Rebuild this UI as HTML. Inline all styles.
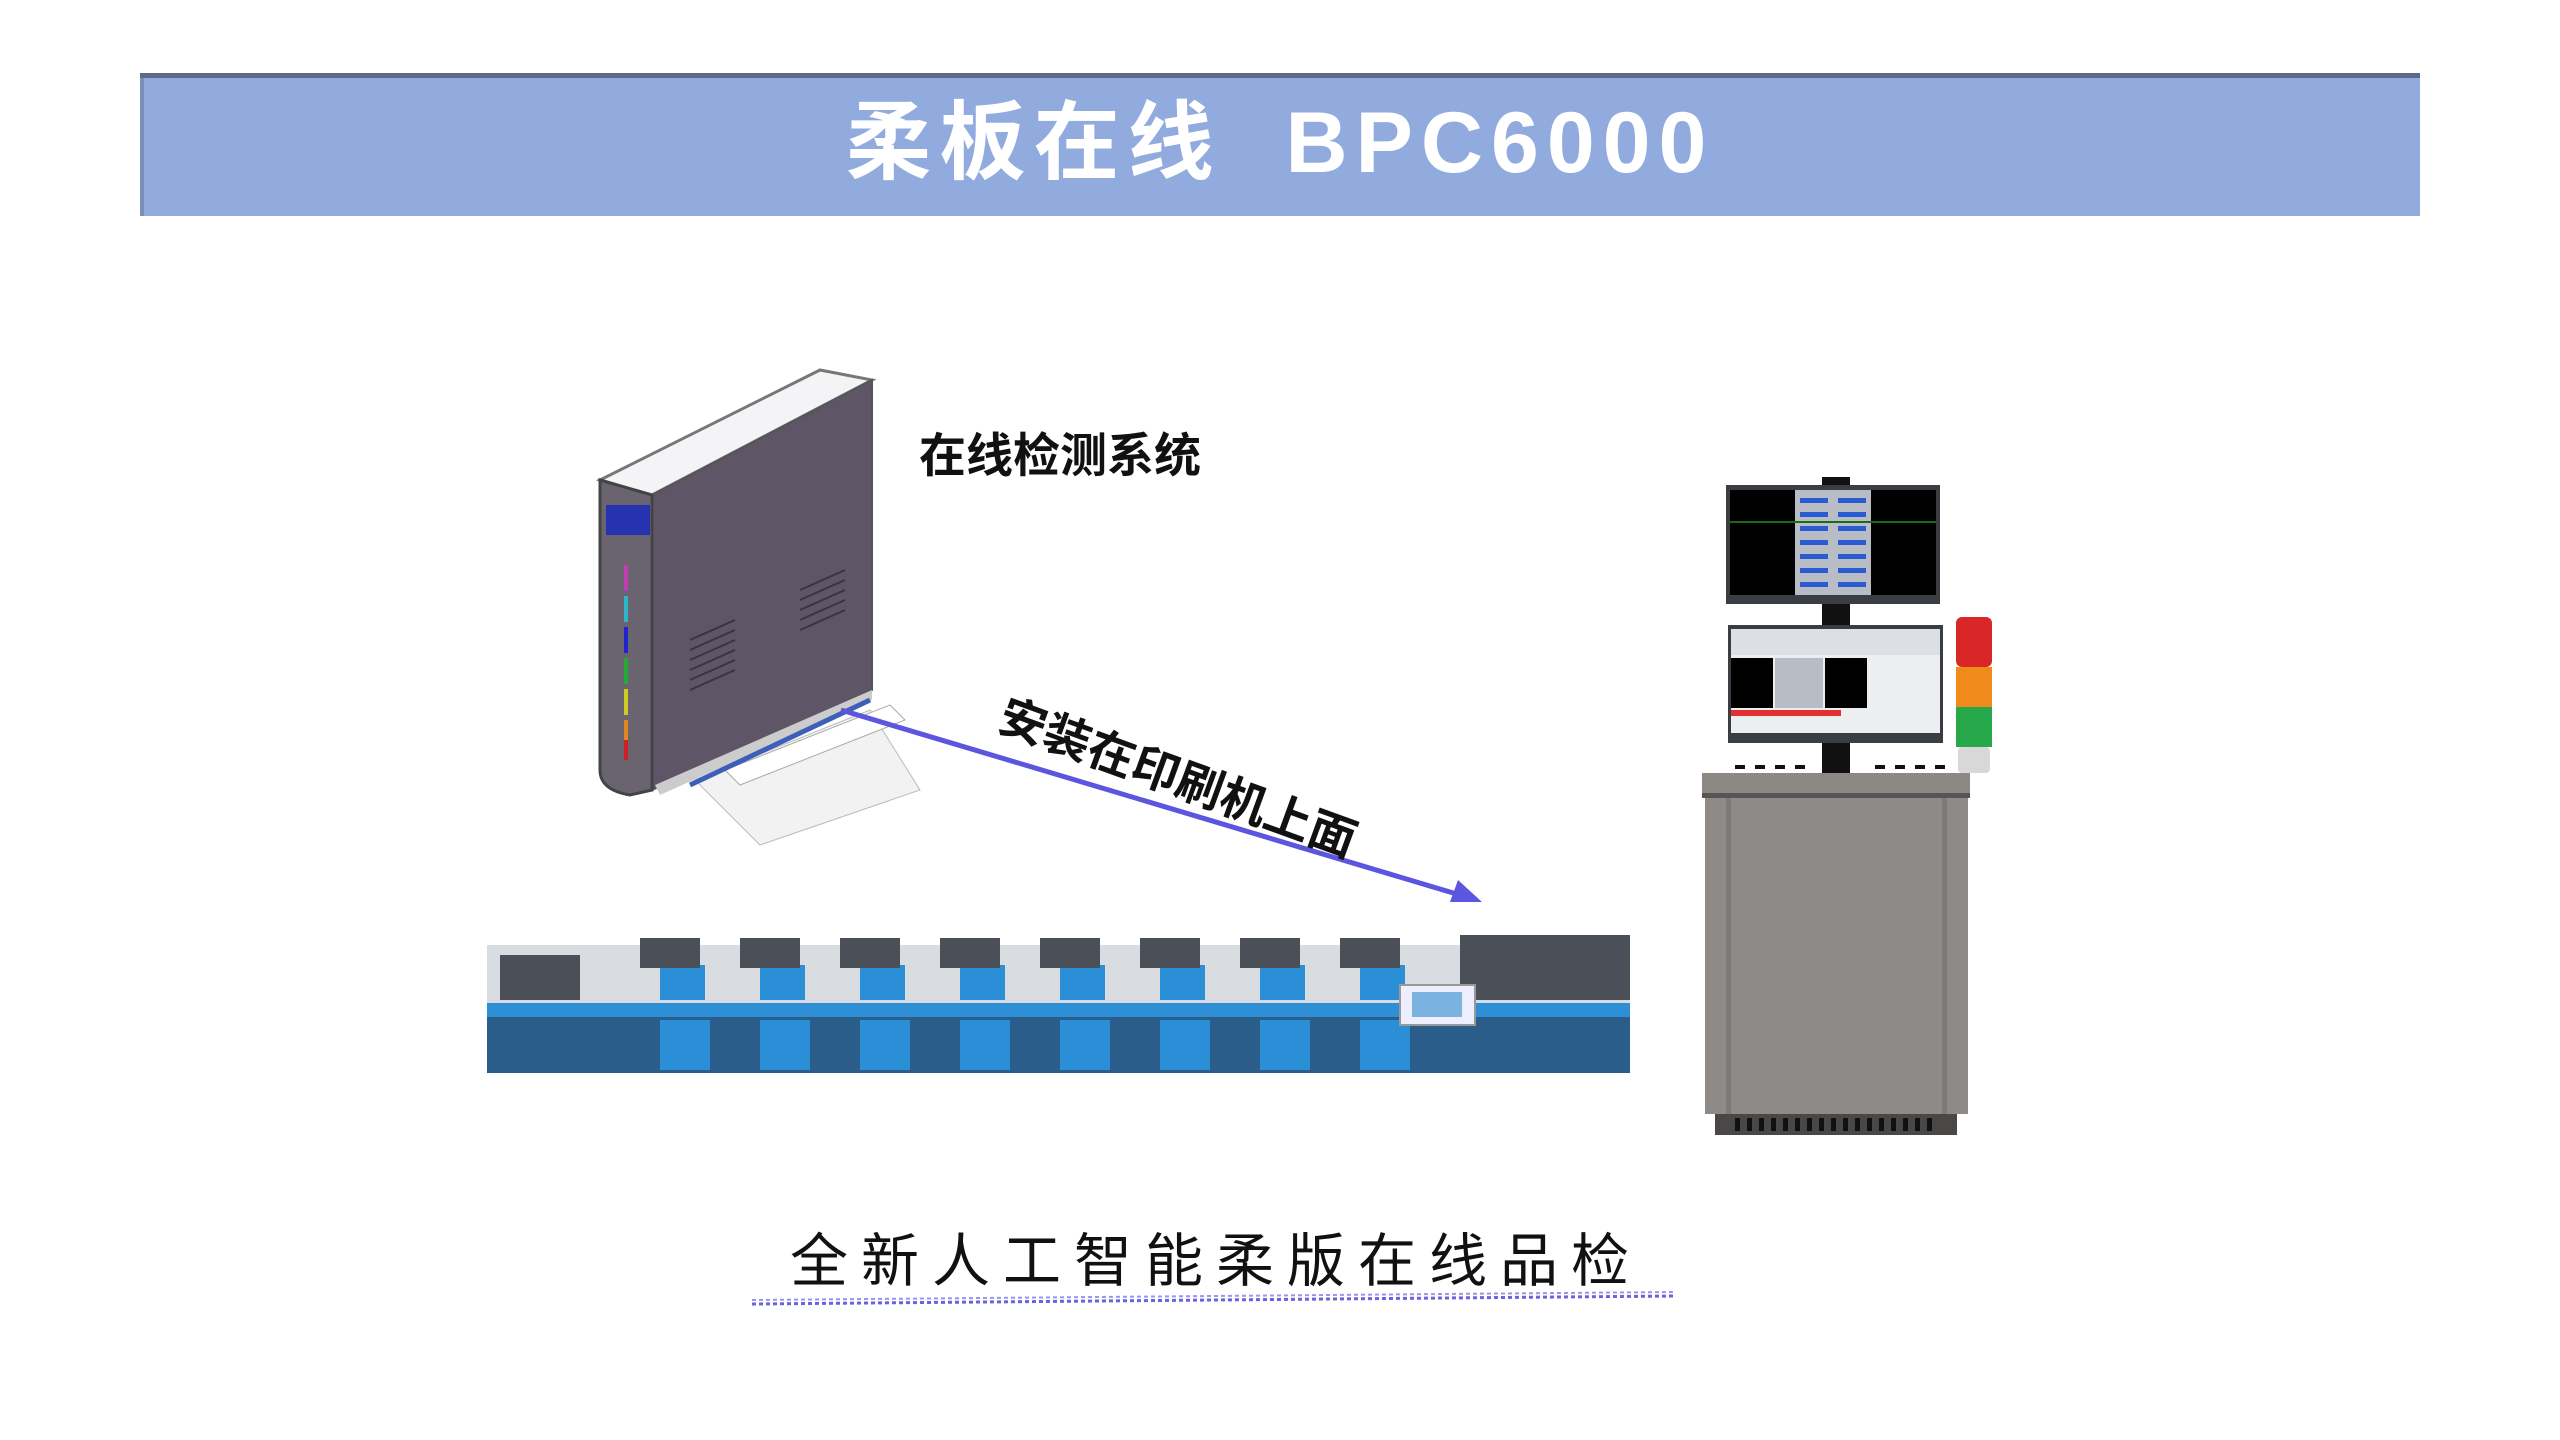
<!DOCTYPE html>
<html><head><meta charset="utf-8"><style>
html,body{margin:0;padding:0;background:#fff;}
body{width:2560px;height:1440px;overflow:hidden;position:relative;font-family:"Liberation Sans","Noto Sans CJK SC",sans-serif;}
.bar{position:absolute;left:140px;top:73px;width:2280px;height:143px;background:#91abdf;border-top:5px solid #5a6a88;box-sizing:border-box;box-shadow:inset 4px 0 0 #7a8fb8;}
.title{position:absolute;left:0;width:2560px;top:88px;text-align:center;color:#fff;font-weight:bold;font-size:86px;line-height:110px;letter-spacing:8px;white-space:pre;}
.lbl{position:absolute;left:919px;top:422px;font-size:47px;font-weight:bold;color:#111;font-family:"Noto Sans CJK SC",sans-serif;line-height:60px;}
.rot{position:absolute;left:1012px;top:684px;font-size:47px;font-weight:bold;color:#111;font-family:"Noto Sans CJK SC",sans-serif;transform:rotate(20deg);transform-origin:0 0;white-space:nowrap;line-height:56px;}
.bottom{position:absolute;left:790px;top:1218px;font-size:58px;color:#111;letter-spacing:13px;font-family:"Noto Sans CJK SC",sans-serif;line-height:76px;white-space:nowrap;}
svg{position:absolute;left:0;top:0;}
</style></head><body>
<div class="bar"></div>
<div class="title">柔板在线  BPC6000</div>
<svg width="2560" height="1440" viewBox="0 0 2560 1440">
<polygon points="600,480 820,370 872,380 652,495" fill="#f4f4f6" stroke="#777" stroke-width="3"/>
<polygon points="652,495 872,380 872,690 652,790" fill="#5e5567" stroke="#555" stroke-width="2"/>
<path d="M600,480 L652,495 L652,790 L630,795 Q600,790 600,770 Z" fill="#6a6470" stroke="#444" stroke-width="3"/>
<rect x="606" y="505" width="44" height="30" fill="#2633b0"/>
<rect x="624" y="565" width="4" height="26" fill="#c23bb0"/>
<rect x="624" y="596" width="4" height="26" fill="#2db6c7"/>
<rect x="624" y="627" width="4" height="26" fill="#2222cc"/>
<rect x="624" y="658" width="4" height="26" fill="#22aa33"/>
<rect x="624" y="689" width="4" height="26" fill="#cccc22"/>
<rect x="624" y="720" width="4" height="26" fill="#dd8822"/>
<rect x="624" y="740" width="4" height="20" fill="#cc2222"/>
<g fill="none" stroke="#3a3442" stroke-width="2">
<path d="M690,640 L735,620 M690,650 L735,630 M690,660 L735,640 M690,670 L735,650 M690,680 L735,660 M690,690 L735,670"/>
<path d="M800,590 L845,570 M800,600 L845,580 M800,610 L845,590 M800,620 L845,600 M800,630 L845,610"/>
</g>
<polygon points="655,785 872,690 872,700 660,795" fill="#ccc"/>
<polygon points="695,780 870,710 920,790 760,845" fill="#f2f2f2" stroke="#bbb"/>
<polygon points="725,770 890,705 905,720 740,785" fill="#fff" stroke="#aaa"/>
<line x1="690" y1="785" x2="870" y2="700" stroke="#3d5fb8" stroke-width="5"/>
<line x1="841" y1="710" x2="1470" y2="898" stroke="#5b55e0" stroke-width="5"/>
<polygon points="1482,902 1450,902 1458,880" fill="#5b55e0"/>
<rect x="487" y="945" width="1143" height="58" fill="#d9dde2"/>
<rect x="487" y="1003" width="1143" height="14" fill="#2f8fd6"/>
<rect x="487" y="1017" width="1143" height="56" fill="#2a5d8a"/>
<g fill="#2b8fd8">
<rect x="660" y="1020" width="50" height="50"/><rect x="760" y="1020" width="50" height="50"/><rect x="860" y="1020" width="50" height="50"/><rect x="960" y="1020" width="50" height="50"/><rect x="1060" y="1020" width="50" height="50"/><rect x="1160" y="1020" width="50" height="50"/><rect x="1260" y="1020" width="50" height="50"/><rect x="1360" y="1020" width="50" height="50"/>
<rect x="660" y="965" width="45" height="35"/><rect x="760" y="965" width="45" height="35"/><rect x="860" y="965" width="45" height="35"/><rect x="960" y="965" width="45" height="35"/><rect x="1060" y="965" width="45" height="35"/><rect x="1160" y="965" width="45" height="35"/><rect x="1260" y="965" width="45" height="35"/><rect x="1360" y="965" width="45" height="35"/>
</g>
<g fill="#4a4f58">
<rect x="640" y="938" width="60" height="30"/><rect x="740" y="938" width="60" height="30"/><rect x="840" y="938" width="60" height="30"/><rect x="940" y="938" width="60" height="30"/><rect x="1040" y="938" width="60" height="30"/><rect x="1140" y="938" width="60" height="30"/><rect x="1240" y="938" width="60" height="30"/><rect x="1340" y="938" width="60" height="30"/><rect x="1460" y="935" width="170" height="65"/><rect x="500" y="955" width="80" height="45"/>
</g>
<rect x="1400" y="985" width="75" height="40" fill="#eef" stroke="#999" stroke-width="2"/>
<rect x="1412" y="992" width="50" height="25" fill="#7ab3e0"/>
<rect x="1822" y="477" width="28" height="300" fill="#111"/>
<rect x="1726" y="485" width="214" height="119" fill="#3a3d42"/>
<rect x="1730" y="490" width="206" height="105" fill="#000"/>
<rect x="1795" y="490" width="76" height="105" fill="#b8bcc4"/>
<g fill="#2a5bd0"><rect x="1800" y="498" width="28" height="5"/><rect x="1838" y="498" width="28" height="5"/><rect x="1800" y="512" width="28" height="5"/><rect x="1838" y="512" width="28" height="5"/><rect x="1800" y="526" width="28" height="5"/><rect x="1838" y="526" width="28" height="5"/><rect x="1800" y="540" width="28" height="5"/><rect x="1838" y="540" width="28" height="5"/><rect x="1800" y="554" width="28" height="5"/><rect x="1838" y="554" width="28" height="5"/><rect x="1800" y="568" width="28" height="5"/><rect x="1838" y="568" width="28" height="5"/><rect x="1800" y="582" width="28" height="5"/><rect x="1838" y="582" width="28" height="5"/></g>
<line x1="1730" y1="522" x2="1936" y2="522" stroke="#1a6a1a" stroke-width="2"/>
<rect x="1728" y="625" width="215" height="118" fill="#3a3d42"/>
<rect x="1731" y="629" width="209" height="104" fill="#eceef0"/>
<rect x="1731" y="629" width="209" height="26" fill="#dcdfe4"/>
<rect x="1731" y="658" width="42" height="50" fill="#000"/>
<rect x="1825" y="658" width="42" height="50" fill="#000"/>
<rect x="1775" y="658" width="48" height="50" fill="#b8bcc4"/>
<rect x="1731" y="710" width="110" height="6" fill="#e03030"/>
<rect x="1956" y="617" width="36" height="50" rx="6" fill="#d92626"/>
<rect x="1956" y="667" width="36" height="40" fill="#f08a1a"/>
<rect x="1956" y="707" width="36" height="40" fill="#27a84a"/>
<rect x="1958" y="747" width="32" height="26" rx="4" fill="#d8d8d8"/>
<g fill="#111"><rect x="1735" y="765" width="10" height="4"/><rect x="1755" y="765" width="10" height="4"/><rect x="1775" y="765" width="10" height="4"/><rect x="1795" y="765" width="10" height="4"/><rect x="1875" y="765" width="10" height="4"/><rect x="1895" y="765" width="10" height="4"/><rect x="1915" y="765" width="10" height="4"/><rect x="1935" y="765" width="10" height="4"/></g>
<rect x="1702" y="773" width="268" height="20" fill="#8c8985"/>
<rect x="1702" y="793" width="268" height="5" fill="#555"/>
<rect x="1705" y="798" width="263" height="316" fill="#8e8a87"/>
<rect x="1726" y="798" width="5" height="316" fill="#7c7a78"/>
<rect x="1942" y="798" width="5" height="316" fill="#7c7a78"/>
<rect x="1715" y="1114" width="242" height="21" fill="#4a4847"/>
<g fill="#111"><rect x="1735" y="1118" width="5" height="13"/><rect x="1747" y="1118" width="5" height="13"/><rect x="1759" y="1118" width="5" height="13"/><rect x="1771" y="1118" width="5" height="13"/><rect x="1783" y="1118" width="5" height="13"/><rect x="1795" y="1118" width="5" height="13"/><rect x="1807" y="1118" width="5" height="13"/><rect x="1819" y="1118" width="5" height="13"/><rect x="1831" y="1118" width="5" height="13"/><rect x="1843" y="1118" width="5" height="13"/><rect x="1855" y="1118" width="5" height="13"/><rect x="1867" y="1118" width="5" height="13"/><rect x="1879" y="1118" width="5" height="13"/><rect x="1891" y="1118" width="5" height="13"/><rect x="1903" y="1118" width="5" height="13"/><rect x="1915" y="1118" width="5" height="13"/><rect x="1927" y="1118" width="5" height="13"/></g>
<line x1="752" y1="1304" x2="1674" y2="1296" stroke="#6a62e0" stroke-width="3" stroke-dasharray="4 3"/>
<line x1="752" y1="1300" x2="1674" y2="1292" stroke="#9a94ee" stroke-width="2" stroke-dasharray="4 3"/>
</svg>
<div class="lbl">在线检测系统</div>
<div class="rot">安装在印刷机上面</div>
<div class="bottom">全新人工智能柔版在线品检</div>
</body></html>
